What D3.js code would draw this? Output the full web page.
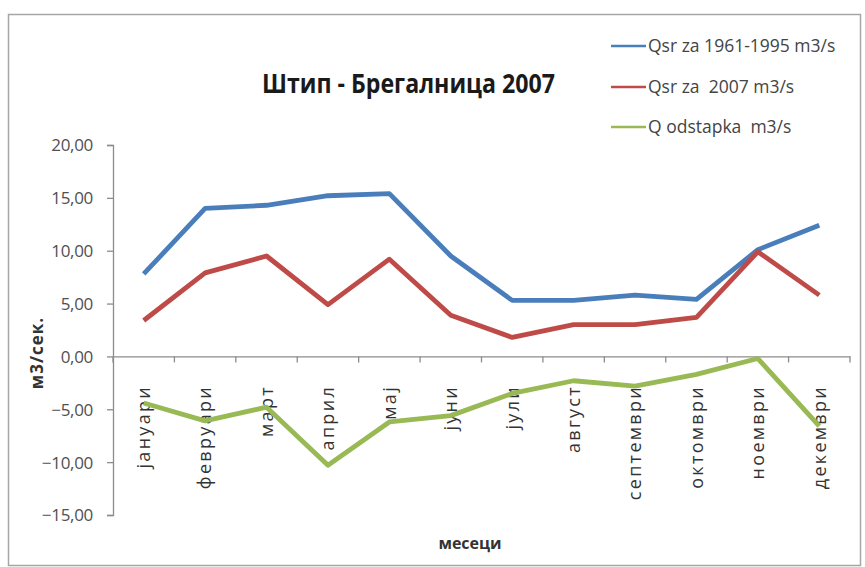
<!DOCTYPE html>
<html>
<head>
<meta charset="utf-8">
<script src="https://cdn.jsdelivr.net/npm/d3@7"></script>
<style>
  html, body { margin: 0; padding: 0; background: #fff; }
  svg { display: block; }
  text { font-family: "Open Sans", "Noto Sans", sans-serif; white-space: pre; }
</style>
</head>
<body>
<svg id="chart" width="865" height="567"></svg>
<script>
// Monthly flows, Štip – Bregalnica
const months = ["јануари", "февруари", "март", "април", "мај", "јуни",
                "јули", "август", "септември", "октомври", "ноември", "декември"];
const qAvg1961_1995 = [7.8, 14.0, 14.3, 15.2, 15.4, 9.5, 5.3, 5.3, 5.8, 5.4, 10.1, 12.4];
const q2007 = [3.4, 7.9, 9.5, 4.9, 9.2, 3.9, 1.8, 3.0, 3.0, 3.7, 9.9, 5.8];
const qDeviation = [-4.4, -6.1, -4.8, -10.3, -6.2, -5.6, -3.5, -2.3, -2.8, -1.7, -0.2, -6.6];
const yTicks = [20, 15, 10, 5, 0, -5, -10, -15];

const seriesNames = ["Qsr za 1961-1995 m3/s", "Qsr za  2007 m3/s", "Q odstapka  m3/s"];
const seriesColors = ["#4a7ebb", "#be4b48", "#98b954"];
const series = [qAvg1961_1995, q2007, qDeviation];

const svg = d3.select("#chart");

// chart area frame
svg.append("rect")
  .attr("x", 8.5).attr("y", 14.5).attr("width", 852).attr("height", 551)
  .attr("fill", "#fff").attr("stroke", "#a6a6a6").attr("stroke-width", 1.5);

const plot = { left: 113, right: 850, top: 145, bottom: 515 };

const x = d3.scaleBand().domain(months).range([plot.left, plot.right]);
const y = d3.scaleLinear().domain([-15, 20]).range([plot.bottom, plot.top]);

const axisColor = "#8c8c8c";

// y axis
const yAxis = svg.append("g")
  .attr("transform", `translate(${plot.left},0)`)
  .call(d3.axisLeft(y).tickValues(yTicks).tickSize(6).tickPadding(14)
        .tickFormat(d => d3.format(".2f")(d).replace(".", ",")));
yAxis.select(".domain").attr("stroke", axisColor).attr("stroke-width", 1.3);
yAxis.selectAll(".tick line").attr("stroke", axisColor).attr("stroke-width", 1.3);
yAxis.selectAll(".tick text")
  .attr("fill", "#505050").attr("font-size", 17).attr("dy", "0.35em")
  .attr("letter-spacing", -0.3)
  .style("font-family", "'Open Sans', sans-serif");

// x axis along zero
const xAxis = svg.append("g")
  .attr("transform", `translate(0,${y(0)})`)
  .call(d3.axisBottom(x).tickSize(0).tickFormat(""));
xAxis.select(".domain").attr("stroke", axisColor).attr("stroke-width", 1.3);

// category boundary ticks
const bounds = months.map(m => x(m) + x.bandwidth()).concat([plot.left]);
svg.append("g").selectAll("line").data(bounds).join("line")
  .attr("x1", d => d).attr("x2", d => d)
  .attr("y1", y(0)).attr("y2", y(0) + 6)
  .attr("stroke", axisColor).attr("stroke-width", 1.3);

// month labels, rotated
svg.append("g").selectAll("text").data(months).join("text")
  .attr("transform", d => `translate(${x(d) + x.bandwidth() / 2},385) rotate(-90)`)
  .attr("text-anchor", "end")
  .attr("dy", "0.35em")
  .attr("font-size", 18)
  .attr("letter-spacing", 2.3)
  .attr("fill", "#333")
  .text(d => d);

// lines
const line = d3.line()
  .x((d, i) => x(months[i]) + x.bandwidth() / 2)
  .y(d => y(d));

svg.append("g").selectAll("path").data(series).join("path")
  .attr("d", d => line(d))
  .attr("fill", "none")
  .attr("stroke", (d, i) => seriesColors[i])
  .attr("stroke-width", 4.8)
  .attr("stroke-linejoin", "round")
  .attr("stroke-linecap", "butt");

// title
svg.append("text")
  .attr("x", 262).attr("y", 93)
  .attr("font-size", 26).attr("font-weight", "bold")
  .attr("fill", "#1a1a1a")
  .attr("textLength", 293).attr("lengthAdjust", "spacingAndGlyphs")
  .text("Штип - Брегалница 2007");

// axis titles
svg.append("text")
  .attr("transform", "translate(37,353) rotate(-90)")
  .attr("text-anchor", "middle").attr("dy", "0.35em")
  .attr("font-size", 17).attr("font-weight", "bold").attr("fill", "#333")
  .attr("letter-spacing", 1)
  .text("м3/сек.");

svg.append("text")
  .attr("x", 470).attr("y", 549)
  .attr("text-anchor", "middle")
  .attr("font-size", 16).attr("font-weight", "bold").attr("fill", "#333")
  .text("месеци");

// legend
const legend = svg.append("g");
const legendY = [46, 87, 127];
seriesNames.forEach((name, i) => {
  legend.append("line")
    .attr("x1", 611).attr("x2", 646)
    .attr("y1", legendY[i]).attr("y2", legendY[i])
    .attr("stroke", seriesColors[i]).attr("stroke-width", 2.5);
  legend.append("text")
    .attr("x", 648).attr("y", legendY[i]).attr("dy", "0.35em")
    .attr("font-size", 17.5).attr("fill", "#444")
    .attr("letter-spacing", 0)
    .text(name);
});
</script>
</body>
</html>
